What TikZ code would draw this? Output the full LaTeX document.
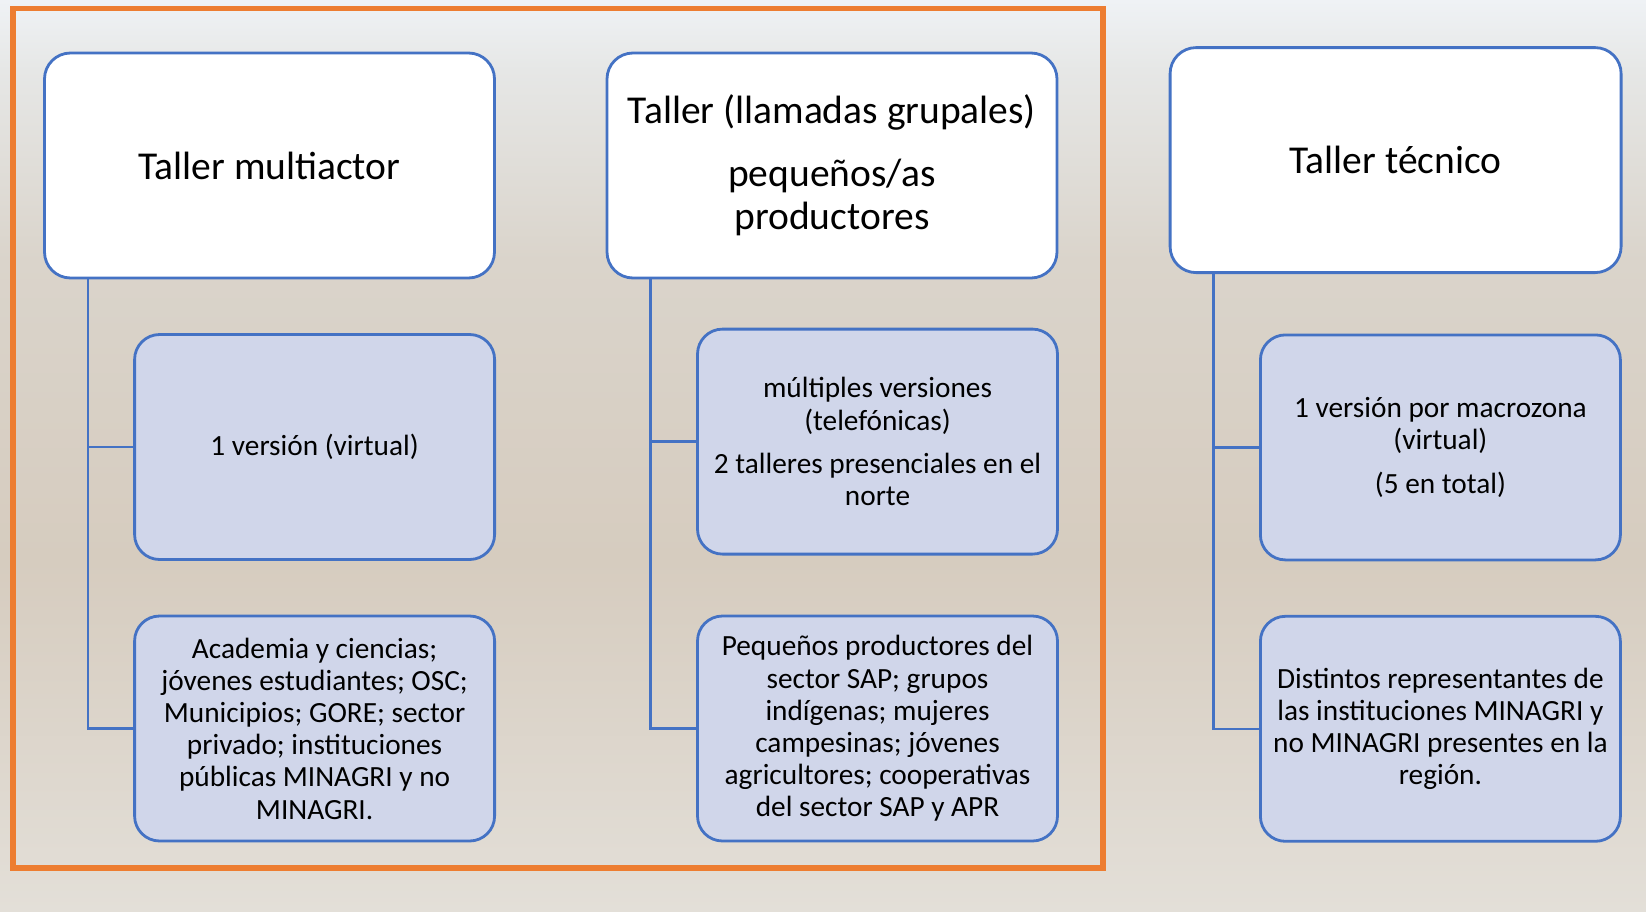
\documentclass[tikz,border=0pt]{standalone}
\usepackage{fontspec}
\setmainfont{Carlito}
\usetikzlibrary{calc}
\definecolor{orng}{HTML}{ED7D31}
\definecolor{bblue}{HTML}{4472C4}
\definecolor{cfill}{RGB}{208,214,234}
\definecolor{bgA}{HTML}{EFF2F5}
\definecolor{bgB}{HTML}{E6E7E6}
\definecolor{bgC}{HTML}{DAD4CB}
\definecolor{bgD}{HTML}{D6CCBF}
\definecolor{bgE}{HTML}{E3DFD8}
\begin{document}
\begin{tikzpicture}[x=1pt,y=-1pt,
  head/.style={draw=bblue,line width=2.8pt,fill=white,rounded corners=26pt,
    minimum width=450pt,minimum height=225pt,inner sep=0pt,align=center,
    font=\fontsize{39.5}{43.4}\selectfont},
  child/.style={draw=bblue,line width=2.8pt,fill=cfill,rounded corners=25pt,
    minimum width=360pt,minimum height=225pt,inner sep=0pt,align=center,
    font=\fontsize{29.3}{32.2}\selectfont},
  conn/.style={draw=bblue,line width=2.6pt},
  frame/.style={draw=orng,line width=5.5pt,minimum width=1090pt,minimum height=859.5pt,inner sep=0pt}]
\useasboundingbox (0,0) rectangle (1646,911);
% background (faded landscape photo)
\fill[top color=bgA,bottom color=bgB] (0,0) rectangle (1646,70);
\fill[top color=bgB,bottom color=bgC] (0,70) rectangle (1646,260);
\fill[top color=bgC,bottom color=bgD] (0,260) rectangle (1646,560);
\fill[top color=bgD,bottom color=bgE] (0,560) rectangle (1646,911);
% frame
\node[frame] (fr) at (558,438.3) {};
% headers
\node[head] (h1) at (269.5,165.5) {Taller multiactor};
\node[head] (h2) at (832,165.5) {Taller (llamadas grupales)\\[19pt]pequeños/as\\productores};
\node[head,minimum width=451pt] (h3) at (1395.6,160.1) {Taller técnico};
% connector start points
\coordinate (t1) at ($(h1.south west)+(45,0)$);
\coordinate (t2) at ($(h2.south west)+(45,0)$);
\coordinate (t3) at ($(h3.south west)+(45,0)$);
% children
\node[child] (c1a) at (314.6,447) {1 versión (virtual)};
\node[child] (c1b) at (314.6,728.5) {Academia y ciencias;\\jóvenes estudiantes; OSC;\\Municipios; GORE; sector\\privado; instituciones\\públicas MINAGRI y no\\MINAGRI.};
\node[child] (c2a) at (877.5,441.6) {múltiples versiones\\(telefónicas)\\[11pt]2 talleres presenciales en el\\norte};
\node[child] (c2b) at (877.5,728.5) {Pequeños productores del\\sector SAP; grupos\\indígenas; mujeres\\campesinas; jóvenes\\agricultores; cooperativas\\del sector SAP y APR};
\node[child] (c3a) at (1440.4,447.4) {1 versión por macrozona\\(virtual)\\[11pt](5 en total)};
\node[child] (c3b) at (1440.4,728.8) {Distintos representantes de\\las instituciones MINAGRI y\\no MINAGRI presentes en la\\región.};
% connectors
\draw[conn] (t1) |- (c1a.west);
\draw[conn] (t1) |- (c1b.west);
\draw[conn] (t2) |- (c2a.west);
\draw[conn] (t2) |- (c2b.west);
\draw[conn] (t3) |- (c3a.west);
\draw[conn] (t3) |- (c3b.west);
\end{tikzpicture}
\end{document}
